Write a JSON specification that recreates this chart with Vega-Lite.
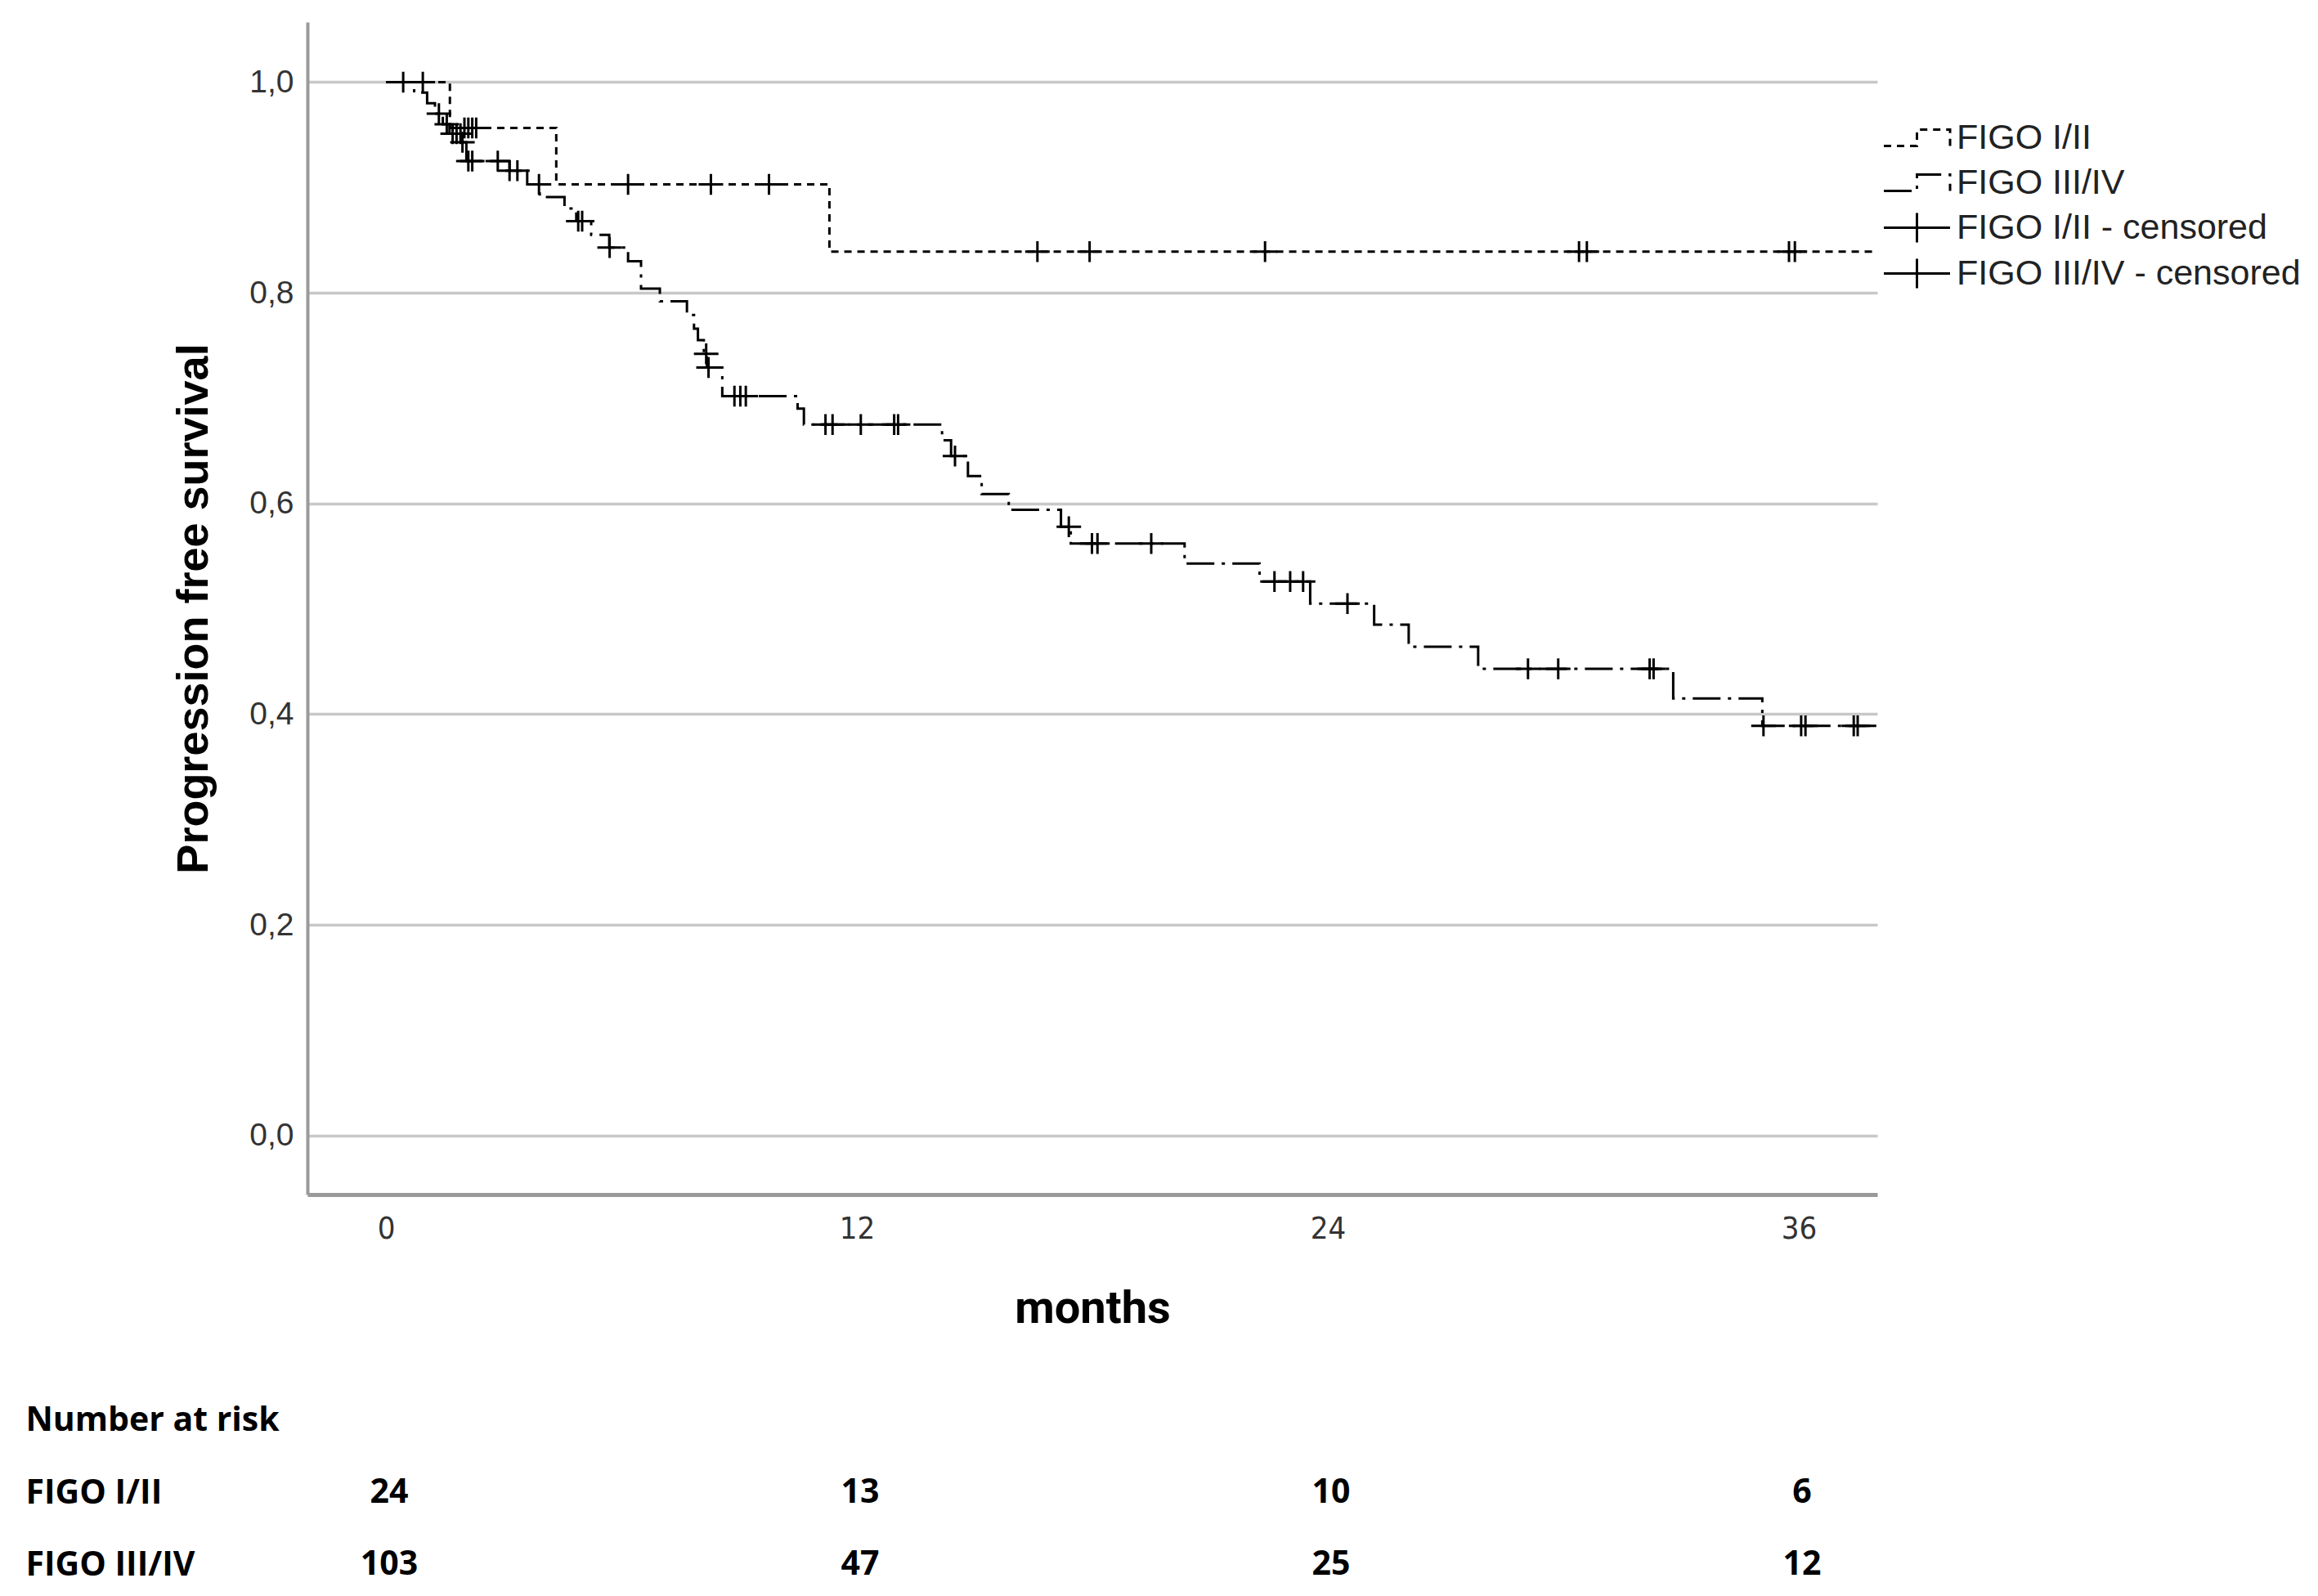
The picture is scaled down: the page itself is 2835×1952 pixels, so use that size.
{
  "$schema": "https://vega.github.io/schema/vega-lite/v6.json",
  "padding": {"left": 31, "top": 27, "right": 0, "bottom": 0},
  "background": "white",
  "config": {"view": {"stroke": null}, "axis": {"ticks": false}},
  "datasets": {
    "km": [
      {"g": "FIGO I/II", "t": 0, "s": 1.0},
      {"g": "FIGO I/II", "t": 1.63, "s": 0.9565},
      {"g": "FIGO I/II", "t": 4.34, "s": 0.903},
      {"g": "FIGO I/II", "t": 11.3, "s": 0.839},
      {"g": "FIGO I/II", "t": 38, "s": 0.839},
      {"g": "FIGO III/IV", "t": 0, "s": 1.0},
      {"g": "FIGO III/IV", "t": 0.72, "s": 0.99},
      {"g": "FIGO III/IV", "t": 1.05, "s": 0.98},
      {"g": "FIGO III/IV", "t": 1.25, "s": 0.97},
      {"g": "FIGO III/IV", "t": 1.45, "s": 0.96},
      {"g": "FIGO III/IV", "t": 1.62, "s": 0.951},
      {"g": "FIGO III/IV", "t": 2.0, "s": 0.943},
      {"g": "FIGO III/IV", "t": 2.05, "s": 0.925},
      {"g": "FIGO III/IV", "t": 3.15, "s": 0.916},
      {"g": "FIGO III/IV", "t": 3.6, "s": 0.903},
      {"g": "FIGO III/IV", "t": 3.92, "s": 0.891},
      {"g": "FIGO III/IV", "t": 4.55, "s": 0.88},
      {"g": "FIGO III/IV", "t": 4.85, "s": 0.868},
      {"g": "FIGO III/IV", "t": 5.23, "s": 0.855},
      {"g": "FIGO III/IV", "t": 5.69, "s": 0.843},
      {"g": "FIGO III/IV", "t": 6.17, "s": 0.83},
      {"g": "FIGO III/IV", "t": 6.5, "s": 0.804},
      {"g": "FIGO III/IV", "t": 6.98, "s": 0.792},
      {"g": "FIGO III/IV", "t": 7.67, "s": 0.779},
      {"g": "FIGO III/IV", "t": 7.85, "s": 0.766},
      {"g": "FIGO III/IV", "t": 7.95, "s": 0.755},
      {"g": "FIGO III/IV", "t": 8.1, "s": 0.742},
      {"g": "FIGO III/IV", "t": 8.18, "s": 0.729},
      {"g": "FIGO III/IV", "t": 8.57, "s": 0.702},
      {"g": "FIGO III/IV", "t": 10.49, "s": 0.69},
      {"g": "FIGO III/IV", "t": 10.65, "s": 0.675},
      {"g": "FIGO III/IV", "t": 14.17, "s": 0.66},
      {"g": "FIGO III/IV", "t": 14.4, "s": 0.645},
      {"g": "FIGO III/IV", "t": 14.83, "s": 0.626},
      {"g": "FIGO III/IV", "t": 15.18, "s": 0.609},
      {"g": "FIGO III/IV", "t": 15.87, "s": 0.594},
      {"g": "FIGO III/IV", "t": 17.2, "s": 0.578},
      {"g": "FIGO III/IV", "t": 17.45, "s": 0.562},
      {"g": "FIGO III/IV", "t": 20.35, "s": 0.543},
      {"g": "FIGO III/IV", "t": 22.26, "s": 0.526},
      {"g": "FIGO III/IV", "t": 23.55, "s": 0.505},
      {"g": "FIGO III/IV", "t": 25.18, "s": 0.485},
      {"g": "FIGO III/IV", "t": 26.06, "s": 0.464},
      {"g": "FIGO III/IV", "t": 27.83, "s": 0.443},
      {"g": "FIGO III/IV", "t": 32.8, "s": 0.415},
      {"g": "FIGO III/IV", "t": 35.07, "s": 0.389},
      {"g": "FIGO III/IV", "t": 38, "s": 0.389}
    ],
    "cens": [
      {"lab": "FIGO I/II - censored", "t": 0.44, "s": 1.0},
      {"lab": "FIGO I/II - censored", "t": 2.0, "s": 0.9565},
      {"lab": "FIGO I/II - censored", "t": 2.1, "s": 0.9565},
      {"lab": "FIGO I/II - censored", "t": 2.2, "s": 0.9565},
      {"lab": "FIGO I/II - censored", "t": 2.3, "s": 0.9565},
      {"lab": "FIGO I/II - censored", "t": 6.17, "s": 0.903},
      {"lab": "FIGO I/II - censored", "t": 8.28, "s": 0.903},
      {"lab": "FIGO I/II - censored", "t": 9.76, "s": 0.903},
      {"lab": "FIGO I/II - censored", "t": 16.6, "s": 0.839},
      {"lab": "FIGO I/II - censored", "t": 17.93, "s": 0.839},
      {"lab": "FIGO I/II - censored", "t": 22.4, "s": 0.839},
      {"lab": "FIGO I/II - censored", "t": 30.4, "s": 0.839},
      {"lab": "FIGO I/II - censored", "t": 30.6, "s": 0.839},
      {"lab": "FIGO I/II - censored", "t": 35.75, "s": 0.839},
      {"lab": "FIGO I/II - censored", "t": 35.9, "s": 0.839},
      {"lab": "FIGO III/IV - censored", "t": 0.94, "s": 1.0},
      {"lab": "FIGO III/IV - censored", "t": 1.35, "s": 0.97},
      {"lab": "FIGO III/IV - censored", "t": 1.55, "s": 0.96},
      {"lab": "FIGO III/IV - censored", "t": 1.7, "s": 0.951},
      {"lab": "FIGO III/IV - censored", "t": 1.8, "s": 0.951},
      {"lab": "FIGO III/IV - censored", "t": 1.9, "s": 0.951},
      {"lab": "FIGO III/IV - censored", "t": 1.95, "s": 0.943},
      {"lab": "FIGO III/IV - censored", "t": 2.1, "s": 0.925},
      {"lab": "FIGO III/IV - censored", "t": 2.2, "s": 0.925},
      {"lab": "FIGO III/IV - censored", "t": 2.85, "s": 0.925},
      {"lab": "FIGO III/IV - censored", "t": 3.15, "s": 0.916},
      {"lab": "FIGO III/IV - censored", "t": 3.35, "s": 0.916},
      {"lab": "FIGO III/IV - censored", "t": 3.9, "s": 0.903},
      {"lab": "FIGO III/IV - censored", "t": 4.9, "s": 0.868},
      {"lab": "FIGO III/IV - censored", "t": 5.0, "s": 0.868},
      {"lab": "FIGO III/IV - censored", "t": 5.7, "s": 0.843},
      {"lab": "FIGO III/IV - censored", "t": 8.16, "s": 0.742},
      {"lab": "FIGO III/IV - censored", "t": 8.22, "s": 0.729},
      {"lab": "FIGO III/IV - censored", "t": 8.88, "s": 0.702},
      {"lab": "FIGO III/IV - censored", "t": 9.03, "s": 0.702},
      {"lab": "FIGO III/IV - censored", "t": 9.17, "s": 0.702},
      {"lab": "FIGO III/IV - censored", "t": 11.2, "s": 0.675},
      {"lab": "FIGO III/IV - censored", "t": 11.38, "s": 0.675},
      {"lab": "FIGO III/IV - censored", "t": 12.1, "s": 0.675},
      {"lab": "FIGO III/IV - censored", "t": 12.95, "s": 0.675},
      {"lab": "FIGO III/IV - censored", "t": 13.05, "s": 0.675},
      {"lab": "FIGO III/IV - censored", "t": 14.5, "s": 0.645},
      {"lab": "FIGO III/IV - censored", "t": 17.4, "s": 0.578},
      {"lab": "FIGO III/IV - censored", "t": 17.99, "s": 0.562},
      {"lab": "FIGO III/IV - censored", "t": 18.13, "s": 0.562},
      {"lab": "FIGO III/IV - censored", "t": 19.5, "s": 0.562},
      {"lab": "FIGO III/IV - censored", "t": 22.64, "s": 0.526},
      {"lab": "FIGO III/IV - censored", "t": 23.04, "s": 0.526},
      {"lab": "FIGO III/IV - censored", "t": 23.37, "s": 0.526},
      {"lab": "FIGO III/IV - censored", "t": 24.5, "s": 0.505},
      {"lab": "FIGO III/IV - censored", "t": 29.1, "s": 0.443},
      {"lab": "FIGO III/IV - censored", "t": 29.87, "s": 0.443},
      {"lab": "FIGO III/IV - censored", "t": 32.2, "s": 0.443},
      {"lab": "FIGO III/IV - censored", "t": 32.3, "s": 0.443},
      {"lab": "FIGO III/IV - censored", "t": 35.1, "s": 0.389},
      {"lab": "FIGO III/IV - censored", "t": 36.06, "s": 0.389},
      {"lab": "FIGO III/IV - censored", "t": 36.17, "s": 0.389},
      {"lab": "FIGO III/IV - censored", "t": 37.4, "s": 0.389},
      {"lab": "FIGO III/IV - censored", "t": 37.5, "s": 0.389}
    ],
    "risk": [
      {"row": "FIGO I/II", "t": 0, "n": 24},
      {"row": "FIGO I/II", "t": 12, "n": 13},
      {"row": "FIGO I/II", "t": 24, "n": 10},
      {"row": "FIGO I/II", "t": 36, "n": 6},
      {"row": "FIGO III/IV", "t": 0, "n": 103},
      {"row": "FIGO III/IV", "t": 12, "n": 47},
      {"row": "FIGO III/IV", "t": 24, "n": 25},
      {"row": "FIGO III/IV", "t": 36, "n": 12}
    ]
  },
  "vconcat": [
    {
      "width": 1920,
      "height": 1434,
      "layer": [
        {
          "data": {"name": "km"},
          "mark": {"type": "line", "interpolate": "step-after", "color": "black", "strokeWidth": 3, "strokeCap": "butt"},
          "encoding": {
            "x": {
              "field": "t", "type": "quantitative",
              "scale": {"domain": [-2, 38], "nice": false, "zero": false},
              "axis": {
                "title": "months", "values": [0, 12, 24, 36], "grid": false,
                "labelFont": "Liberation Sans Narrow, DejaVu Sans Condensed, sans-serif",
                "labelFontSize": 38, "labelColor": "#333333", "labelPadding": 23,
                "titleFont": "Roboto", "titleFontSize": 56, "titleFontWeight": "bold", "titleColor": "black",
                "titlePadding": 51, "domainColor": "#9a9a9a", "domainWidth": 5
              }
            },
            "y": {
              "field": "s", "type": "quantitative",
              "scale": {"domain": [-0.056, 1.057], "nice": false, "zero": false},
              "axis": {
                "title": "Progression free survival", "values": [0, 0.2, 0.4, 0.6, 0.8, 1],
                "labelExpr": "replace(format(datum.value, '.1f'), '.', ',')",
                "grid": true, "gridColor": "#c8c8c8", "gridWidth": 3.5,
                "labelFont": "Liberation Sans", "labelFontSize": 39, "labelColor": "#333333", "labelPadding": 17,
                "titleFont": "Liberation Sans", "titleFontSize": 54, "titleFontWeight": "bold", "titleColor": "black",
                "titlePadding": 40, "domainColor": "#9a9a9a", "domainWidth": 4
              }
            },
            "strokeDash": {
              "field": "g", "type": "nominal",
              "scale": {"domain": ["FIGO I/II", "FIGO III/IV"], "range": [[9, 7], [34, 9, 4, 9]]},
              "legend": {
                "title": null, "orient": "none", "legendX": 1937, "legendY": 110,
                "symbolType": "M-1.35,0.33H0V-0.33H1.35V0.33", "symbolSize": 3600, "symbolStrokeWidth": 3,
                "symbolStrokeColor": "black", "symbolFillColor": "transparent",
                "labelFont": "Liberation Sans", "labelFontSize": 43, "labelColor": "#222222", "labelLimit": 800,
                "labelOffset": 17, "rowPadding": 1, "padding": 0
              }
            }
          }
        },
        {
          "data": {"name": "cens"},
          "mark": {"type": "point", "shape": "M-1,0H1M0,-0.85V0.85", "filled": false, "size": 900, "strokeWidth": 3, "opacity": 1},
          "encoding": {
            "x": {"field": "t", "type": "quantitative"},
            "y": {"field": "s", "type": "quantitative"},
            "stroke": {
              "field": "lab", "type": "nominal",
              "scale": {"domain": ["FIGO I/II - censored", "FIGO III/IV - censored"], "range": ["black", "black"]},
              "legend": {
                "title": null, "orient": "none", "legendX": 1937, "legendY": 220,
                "symbolType": "M-1.35,0H1.35M0,-0.6V0.6", "symbolSize": 3600, "symbolStrokeWidth": 3,
                "symbolOpacity": 1, "symbolFillColor": "transparent",
                "labelFont": "Liberation Sans", "labelFontSize": 43, "labelColor": "#222222", "labelLimit": 800,
                "labelOffset": 17, "rowPadding": 0, "padding": 0
              }
            }
          }
        }
      ]
    },
    {
      "width": 1920,
      "height": 200,
      "data": {"name": "risk"},
      "mark": {"type": "text", "font": "Open Sans", "fontWeight": "bold", "fontSize": 41, "color": "black", "dx": 4},
      "encoding": {
        "x": {"field": "t", "type": "quantitative", "scale": {"domain": [-2, 38], "nice": false, "zero": false}, "axis": null},
        "y": {
          "field": "row", "type": "nominal",
          "scale": {"type": "point", "domain": ["Number at risk", "FIGO I/II", "FIGO III/IV"], "padding": 0.136},
          "axis": {
            "title": null, "domain": false, "ticks": false, "grid": false, "labelAlign": "left", "labelPadding": 345,
            "labelLimit": 800,
            "labelFont": "Open Sans", "labelFontWeight": "bold", "labelFontSize": 41, "labelColor": "black"
          }
        },
        "text": {"field": "n", "type": "quantitative"}
      }
    }
  ],
  "spacing": 88
}
